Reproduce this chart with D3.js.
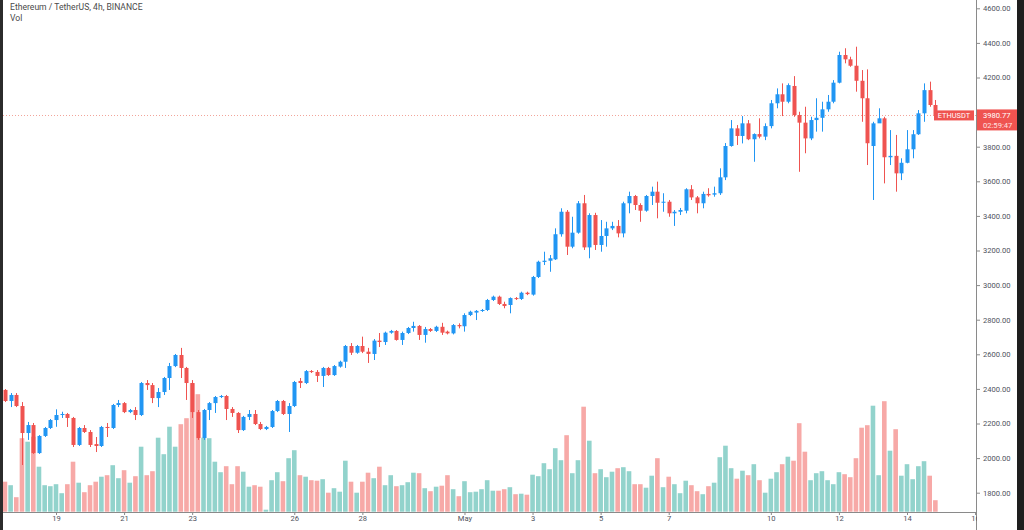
<!DOCTYPE html>
<html>
<head>
<meta charset="utf-8">
<script src="https://cdn.jsdelivr.net/npm/d3@7/dist/d3.min.js"></script>
<style>
  html, body { margin: 0; padding: 0; background: #ffffff; }
  svg { display: block; }
  text { font-family: Roboto, "Open Sans", sans-serif; }
</style>
</head>
<body>
<svg id="chart" width="1024" height="530"></svg>
<script>
"use strict";

// 4h candles, first one opens 2021-04-17 12:00 UTC
var FIRST_CANDLE = Date.UTC(2021, 3, 17, 12);
var CANDLE_MS = 4 * 3600 * 1000;

var opens = [2394, 2330, 2365, 2301, 2145, 2191, 2029, 2128, 2174,
  2220, 2249, 2255, 2232, 2076, 2174, 2151, 2081, 2070, 2180, 2174, 2307,
  2318, 2266, 2278, 2249, 2434, 2422, 2347, 2382, 2463, 2532, 2596, 2521,
  2434, 2266, 2116, 2278, 2318, 2353, 2359, 2284, 2261, 2162, 2238, 2255,
  2197, 2168, 2180, 2272, 2330, 2255, 2301, 2446, 2434, 2503, 2498, 2475,
  2521, 2480, 2529, 2557, 2648, 2609, 2648, 2615, 2602, 2679, 2671, 2725,
  2735, 2683, 2723, 2752, 2764, 2712, 2746, 2735, 2759, 2731, 2721, 2769,
  2762, 2827, 2841, 2851, 2856, 2914, 2933, 2891, 2885, 2925, 2920, 2956,
  2945, 3047, 3134, 3141, 3149, 3294, 3424, 3222, 3303, 3473, 3218, 3405,
  3232, 3284, 3328, 3342, 3299, 3473, 3515, 3463, 3430, 3515, 3540, 3476,
  3482, 3415, 3424, 3430, 3554, 3507, 3473, 3527, 3523, 3531, 3623, 3804,
  3906, 3862, 3935, 3843, 3873, 3858, 3919, 4051, 4103, 4060, 4151, 3983,
  3939, 3848, 3954, 3967, 4016, 4060, 4170, 4330, 4305, 4268, 4181, 4080,
  3804, 3935, 3964, 3739, 3747, 3646, 3707, 3785, 3872, 3993, 4127, 4041];

var highs = [2399, 2376, 2376, 2324, 2209, 2203, 2133, 2180, 2226,
  2282, 2268, 2261, 2238, 2180, 2191, 2162, 2122, 2186, 2203, 2313, 2336,
  2324, 2284, 2295, 2440, 2451, 2434, 2405, 2469, 2550, 2602, 2637, 2527,
  2451, 2278, 2284, 2324, 2359, 2365, 2365, 2295, 2266, 2244, 2278, 2278,
  2209, 2186, 2278, 2336, 2336, 2318, 2446, 2463, 2509, 2509, 2509, 2527,
  2527, 2538, 2563, 2654, 2665, 2654, 2702, 2637, 2688, 2723, 2731, 2741,
  2740, 2731, 2758, 2788, 2769, 2758, 2752, 2765, 2782, 2737, 2775, 2779,
  2837, 2852, 2856, 2862, 2920, 2939, 2939, 2904, 2929, 2931, 2962, 2962,
  3053, 3141, 3193, 3174, 3328, 3444, 3434, 3395, 3486, 3521, 3415, 3418,
  3376, 3366, 3366, 3376, 3482, 3540, 3521, 3473, 3521, 3569, 3598, 3531,
  3492, 3434, 3446, 3560, 3578, 3515, 3540, 3560, 3569, 3675, 3821, 3954,
  3925, 3977, 3954, 3877, 3964, 3935, 4070, 4137, 4166, 4166, 4208, 4002,
  4031, 3973, 4080, 4060, 4099, 4185, 4349, 4369, 4320, 4378, 4243, 4247,
  3944, 4022, 3973, 3896, 3868, 3733, 3896, 3896, 4012, 4166, 4176, 4070];

var lows = [2324, 2295, 2295, 1960, 2105, 2024, 2024, 2122, 2168,
  2181, 2232, 2180, 2064, 2070, 2145, 2064, 2035, 2064, 2122, 2168, 2295,
  2260, 2260, 2220, 2243, 2394, 2318, 2295, 2365, 2394, 2526, 2463, 2336,
  2232, 2105, 2105, 2220, 2261, 2347, 2220, 2238, 2145, 2157, 2220, 2191,
  2162, 2162, 2174, 2266, 2249, 2151, 2295, 2405, 2428, 2492, 2440, 2411,
  2475, 2475, 2523, 2521, 2596, 2603, 2607, 2550, 2567, 2642, 2654, 2719,
  2679, 2654, 2717, 2731, 2683, 2667, 2729, 2729, 2712, 2715, 2715, 2750,
  2731, 2821, 2798, 2845, 2850, 2908, 2885, 2866, 2837, 2914, 2914, 2942,
  2939, 3041, 3116, 3077, 3145, 3280, 3174, 3213, 3297, 3203, 3155, 3203,
  3193, 3222, 3318, 3276, 3276, 3415, 3434, 3366, 3424, 3463, 3386, 3424,
  3395, 3342, 3405, 3415, 3492, 3415, 3444, 3511, 3511, 3521, 3607, 3800,
  3810, 3819, 3838, 3713, 3848, 3838, 3906, 4022, 3977, 4051, 3973, 3655,
  3762, 3838, 3887, 3887, 4002, 4051, 4166, 4282, 4262, 4118, 3944, 3694,
  3492, 3944, 3588, 3694, 3540, 3607, 3704, 3733, 3868, 3944, 4031, 3973];

var closes = [2330, 2365, 2301, 2145, 2191, 2029, 2128, 2174, 2220,
  2249, 2255, 2232, 2076, 2174, 2151, 2076, 2070, 2180, 2174, 2307, 2318,
  2266, 2278, 2249, 2434, 2422, 2347, 2382, 2463, 2532, 2596, 2521, 2434,
  2266, 2116, 2278, 2318, 2353, 2359, 2284, 2261, 2162, 2238, 2255, 2197,
  2168, 2180, 2272, 2330, 2255, 2301, 2440, 2434, 2503, 2498, 2475, 2521,
  2480, 2532, 2557, 2648, 2609, 2648, 2615, 2602, 2679, 2671, 2725, 2735,
  2683, 2723, 2752, 2764, 2712, 2746, 2735, 2759, 2725, 2721, 2769, 2762,
  2827, 2846, 2851, 2856, 2914, 2933, 2891, 2879, 2925, 2920, 2956, 2948,
  3047, 3135, 3141, 3155, 3294, 3424, 3222, 3303, 3473, 3218, 3405, 3232,
  3284, 3328, 3342, 3299, 3473, 3515, 3463, 3430, 3515, 3540, 3476, 3482,
  3415, 3424, 3434, 3554, 3507, 3473, 3527, 3519, 3531, 3623, 3804, 3906,
  3862, 3935, 3843, 3873, 3858, 3919, 4051, 4103, 4060, 4156, 3983, 3939,
  3848, 3954, 3967, 4016, 4060, 4170, 4330, 4305, 4268, 4181, 4080, 3820,
  3935, 3964, 3739, 3747, 3646, 3707, 3785, 3872, 3993, 4127, 4041, 3980.77];

// volume, thousand ETH
var volumes = [60, 53, 29, 147, 140, 150, 90, 53, 51,
  55, 37, 55, 100, 58, 39, 53, 60, 70, 73, 93, 67,
  83, 58, 71, 130, 73, 81, 148, 115, 170, 130, 175, 187,
  257, 235, 148, 147, 100, 79, 91, 55, 91, 80, 50, 53,
  50, 4, 63, 79, 61, 107, 123, 73, 70, 63, 62, 65,
  38, 47, 40, 102, 60, 38, 60, 78, 67, 90, 53, 73,
  51, 53, 59, 78, 77, 47, 41, 50, 52, 73, 45, 31,
  61, 39, 40, 45, 63, 42, 42, 45, 49, 35, 36, 34,
  74, 71, 97, 85, 127, 103, 153, 77, 103, 210, 142, 77,
  85, 69, 80, 87, 89, 81, 55, 55, 48, 72, 107, 49,
  70, 55, 37, 62, 53, 41, 35, 51, 58, 109, 132, 87,
  66, 82, 73, 95, 63, 38, 66, 79, 95, 110, 102, 177,
  120, 63, 77, 81, 63, 55, 79, 75, 69, 107, 168, 173,
  212, 73, 221, 122, 165, 72, 95, 65, 91, 101, 72, 23];

// 4000.00 sits under the last-price tag, so it is left out
var priceTicks = [1800, 2000, 2200, 2400, 2600, 2800, 3000, 3200, 3400, 3600, 3800, 4200, 4400, 4600];
var dateTicks = [
  Date.UTC(2021, 3, 19), Date.UTC(2021, 3, 21), Date.UTC(2021, 3, 23), Date.UTC(2021, 3, 26),
  Date.UTC(2021, 3, 28), Date.UTC(2021, 4, 1), Date.UTC(2021, 4, 3), Date.UTC(2021, 4, 5),
  Date.UTC(2021, 4, 7), Date.UTC(2021, 4, 10), Date.UTC(2021, 4, 12), Date.UTC(2021, 4, 14),
  Date.UTC(2021, 4, 16)
];
var dateLabels = ["19", "21", "23", "26", "28", "May", "3", "5", "7", "10", "12", "14", "16"];

var lastPrice = 3980.77;
var countdown = "02:59:47";
var symbol = "ETHUSDT";
var title = "Ethereum / TetherUS, 4h, BINANCE";

var UP = "#2196f3", DOWN = "#ef5350";
var VOL_UP = "#92d3cc", VOL_DOWN = "#f7a9a7";
var TEXT = "#50535e";

var W = 1024, H = 530;
var PANE_L = 3, PANE_R = 976, PANE_B = 512;

var svg = d3.select("#chart");

var x = d3.scaleUtc()
  .domain([Date.UTC(2021, 3, 19), Date.UTC(2021, 4, 14)])
  .range([56, 907]);
var y = d3.scaleLinear().domain([1800, 4600]).range([492.7, 8.3]);
var yVol = d3.scaleLinear().domain([0, 600]).range([511.7, 211.7]);

var candles = opens.map(function (o, i) {
  return { t: FIRST_CANDLE + i * CANDLE_MS, o: o, h: highs[i], l: lows[i], c: closes[i], v: volumes[i] };
});
var isUp = function (d) { return d.c >= d.o; };

svg.append("defs").append("clipPath").attr("id", "pane")
  .append("rect").attr("x", PANE_L).attr("y", 0).attr("width", PANE_R - PANE_L).attr("height", PANE_B);
svg.select("defs").append("clipPath").attr("id", "timeAxis")
  .append("rect").attr("x", 0).attr("y", PANE_B).attr("width", PANE_R + 1).attr("height", H - PANE_B);

var pane = svg.append("g").attr("clip-path", "url(#pane)");

// Volume
pane.append("g")
  .selectAll("rect")
  .data(candles)
  .enter()
  .append("rect")
  .attr("x", function (d) { return x(d.t) - 2.3; })
  .attr("width", 4.6)
  .attr("y", function (d) { return yVol(d.v); })
  .attr("height", function (d) { return yVol(0) - yVol(d.v); })
  .attr("fill", function (d) { return isUp(d) ? VOL_UP : VOL_DOWN; });

// Last price line
pane.append("line")
  .attr("x1", PANE_L).attr("x2", PANE_R)
  .attr("y1", Math.round(y(lastPrice)) + 0.5).attr("y2", Math.round(y(lastPrice)) + 0.5)
  .attr("stroke", "#f2a49a")
  .attr("stroke-width", 1)
  .attr("stroke-dasharray", "1,2");

// Candles
var candle = pane.append("g")
  .selectAll("g")
  .data(candles)
  .enter()
  .append("g");

candle.append("line")
  .attr("x1", function (d) { return Math.round(x(d.t)) + 0.5; })
  .attr("x2", function (d) { return Math.round(x(d.t)) + 0.5; })
  .attr("y1", function (d) { return y(d.h); })
  .attr("y2", function (d) { return y(d.l); })
  .attr("stroke", function (d) { return isUp(d) ? UP : DOWN; })
  .attr("stroke-width", 1);

candle.append("rect")
  .attr("x", function (d) { return Math.round(x(d.t)) - 1.5; })
  .attr("width", 4)
  .attr("y", function (d) { return y(Math.max(d.o, d.c)); })
  .attr("height", function (d) { return Math.max(1, Math.abs(y(d.o) - y(d.c))); })
  .attr("fill", function (d) { return isUp(d) ? UP : DOWN; });

// Frame
svg.append("rect").attr("x", 0).attr("y", 0).attr("width", PANE_L).attr("height", H).attr("fill", "#2b2b2b");
svg.append("rect").attr("x", 1017).attr("y", 0).attr("width", W - 1017).attr("height", H).attr("fill", "#1e1e1e");

svg.append("line")
  .attr("x1", PANE_R + 0.5).attr("x2", PANE_R + 0.5)
  .attr("y1", 0).attr("y2", H)
  .attr("stroke", "#8a8a8a");
svg.append("line")
  .attr("x1", PANE_L).attr("x2", PANE_R)
  .attr("y1", PANE_B + 0.5).attr("y2", PANE_B + 0.5)
  .attr("stroke", "#8a8a8a");

// Price axis
var yAxis = svg.append("g")
  .attr("transform", "translate(" + (PANE_R + 1) + ",0)")
  .call(d3.axisRight(y).tickValues(priceTicks).tickFormat(d3.format(".2f")).tickSize(3).tickPadding(3));
yAxis.select(".domain").remove();
yAxis.selectAll("line").attr("stroke", "#8a8a8a");
yAxis.selectAll("text").attr("fill", TEXT).style("font-size", "7.6px");

// Time axis
var xAxis = svg.append("g")
  .attr("clip-path", "url(#timeAxis)")
  .append("g")
  .attr("transform", "translate(0," + PANE_B + ")")
  .call(d3.axisBottom(x).tickValues(dateTicks).tickFormat(function (d, i) { return dateLabels[i]; }).tickSize(3).tickPadding(1));
xAxis.select(".domain").remove();
xAxis.selectAll("line").attr("stroke", "#8a8a8a");
xAxis.selectAll("text").attr("fill", TEXT).style("font-size", "7.6px");

// Last price labels
var lastY = y(lastPrice);
svg.append("rect")
  .attr("x", 934).attr("y", lastY - 5).attr("width", 40).attr("height", 10)
  .attr("fill", DOWN);
svg.append("text")
  .attr("x", 954).attr("y", lastY)
  .attr("dy", "0.35em")
  .attr("text-anchor", "middle")
  .attr("fill", "#ffffff")
  .style("font-size", "7.4px")
  .text(symbol);

svg.append("rect")
  .attr("x", PANE_R + 1).attr("y", lastY - 6).attr("width", 40).attr("height", 21)
  .attr("fill", DOWN);
svg.append("text")
  .attr("x", PANE_R + 7).attr("y", lastY)
  .attr("dy", "0.35em")
  .attr("fill", "#ffffff")
  .style("font-size", "7.6px")
  .text(d3.format(".2f")(lastPrice));
svg.append("text")
  .attr("x", PANE_R + 7).attr("y", lastY + 10)
  .attr("dy", "0.35em")
  .attr("fill", "#ffe1e0")
  .style("font-size", "7.6px")
  .text(countdown);

// Legend
svg.append("text")
  .attr("x", 10).attr("y", 7)
  .attr("dy", "0.35em")
  .attr("fill", "#4a4a4a")
  .style("font-size", "8.6px")
  .text(title);
svg.append("text")
  .attr("x", 10).attr("y", 18)
  .attr("dy", "0.35em")
  .attr("fill", "#4a4a4a")
  .style("font-size", "8.6px")
  .text("Vol");
</script>
</body>
</html>
